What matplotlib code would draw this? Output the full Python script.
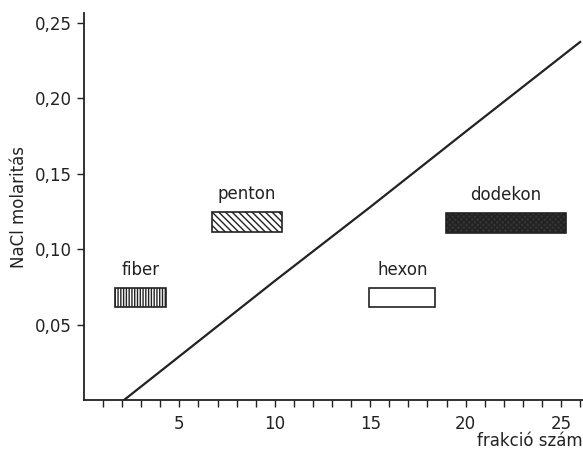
import matplotlib
matplotlib.use("Agg")
import matplotlib.pyplot as plt
from matplotlib.patches import Rectangle
from matplotlib.ticker import FixedLocator

plt.rcParams['hatch.linewidth'] = 1.0

# gradient line data
frac = [2.1, 5.0, 10.0, 15.0, 20.0, 26.0]
molar = [0.0, 0.029, 0.079, 0.128, 0.178, 0.2375]

# fraction ranges (boxes)
names = ["fiber", "penton", "hexon", "dodekon"]
x_start = [1.65, 6.7, 14.95, 18.97]
x_end = [4.32, 10.38, 18.41, 25.27]
y_low = [0.0615, 0.1115, 0.0615, 0.1108]
y_high = [0.0745, 0.1245, 0.0743, 0.1238]
hatches = ["||||||", "\\\\\\\\\\", "", "xxxxxx"]
faces = ["white", "white", "white", "#333333"]

xticks = [5, 10, 15, 20, 25]
xticklabels = ["5", "10", "15", "20", "25"]
xminor = [1, 2, 3, 4, 6, 7, 8, 9, 11, 12, 13, 14, 16, 17, 18, 19,
          21, 22, 23, 24, 26]
yticks = [0.05, 0.10, 0.15, 0.20, 0.25]
yticklabels = ["0,05", "0,10", "0,15", "0,20", "0,25"]

fig = plt.figure(figsize=(5.83, 4.53), dpi=100)
ax = fig.add_axes([84/583, 53/453, (583-84)/583, 387/453])
ax.set_xlim(0, 26.15)
ax.set_ylim(0, 0.2567)

ax.plot(frac, molar, color="#222222", lw=1.6)

for n, xs, xe, yl, yh, h, fc in zip(names, x_start, x_end, y_low, y_high, hatches, faces):
    ax.add_patch(Rectangle((xs, yl), xe - xs, yh - yl, facecolor=fc,
                           edgecolor="#222222", hatch=h, lw=1.2))
    ax.text((xs + xe) / 2, yh + 0.006, n, ha="center", va="bottom",
            fontsize=12, color="#222222")

ax.spines["top"].set_visible(False)
ax.spines["right"].set_visible(False)
for s in ["left", "bottom"]:
    ax.spines[s].set_linewidth(1.3)
    ax.spines[s].set_color("#222222")

ax.xaxis.set_major_locator(FixedLocator(xticks))
ax.set_xticklabels(xticklabels)
ax.xaxis.set_minor_locator(FixedLocator(xminor))
ax.yaxis.set_major_locator(FixedLocator(yticks))
ax.set_yticklabels(yticklabels)
ax.tick_params(axis="both", which="both", direction="out", length=5,
               width=1.0, color="#222222", labelsize=12, labelcolor="#222222")
ax.tick_params(axis="x", which="major", pad=6)

ax.text(-0.13, 0.5, "NaCl molaritás", transform=ax.transAxes, rotation=90,
        ha="center", va="center", fontsize=12, color="#222222")
ax.text(1.0, -0.105, "frakció szám", transform=ax.transAxes,
        ha="right", va="center", fontsize=12, color="#222222")

fig.savefig("out.png", dpi=100, facecolor="white")
